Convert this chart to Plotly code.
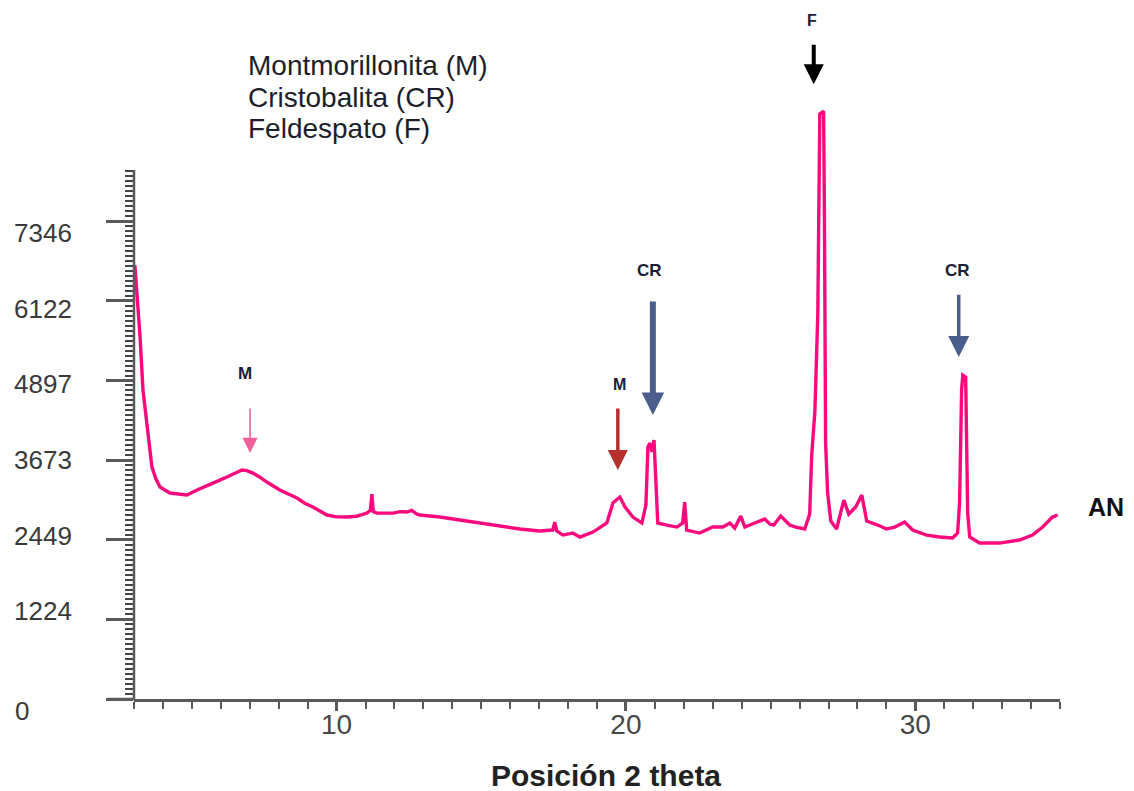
import numpy as np
import plotly.graph_objects as go

# ---------------- data ----------------
two_theta = [
    3.03, 3.10, 3.17, 3.21, 3.31, 3.45, 3.62, 3.76, 3.90, 4.24, 4.55, 4.83, 5.18, 5.45,
    5.73, 6.21, 6.50, 6.73, 6.90, 7.11, 7.35, 7.59, 8.04, 8.35, 8.63, 8.90, 9.18, 9.67,
    10.00, 10.36, 10.70, 11.05, 11.17, 11.22, 11.27, 11.39, 11.95, 12.20, 12.43, 12.60,
    12.78, 12.88, 13.57, 14.26, 14.95, 15.64, 16.33, 17.02, 17.47, 17.54, 17.61, 17.82,
    18.16, 18.41, 18.86, 19.34, 19.55, 19.79, 19.97, 20.24, 20.55, 20.69, 20.76, 20.83,
    20.90, 20.97, 21.04, 21.10, 21.41, 21.76, 21.96, 22.03, 22.10, 22.55, 23.00, 23.35,
    23.59, 23.76, 23.97, 24.11, 24.45, 24.62, 24.80, 24.97, 25.11, 25.35, 25.66, 25.87,
    26.18, 26.35, 26.42, 26.53, 26.63, 26.70, 26.83, 26.86, 26.90, 26.97, 27.08, 27.28,
    27.53, 27.70, 27.94, 28.15, 28.32, 28.70, 29.01, 29.29, 29.63, 29.91, 30.39, 30.84,
    31.29, 31.46, 31.53, 31.60, 31.64, 31.74, 31.77, 31.81, 31.88, 32.22, 32.91, 33.60,
    34.05, 34.40, 34.74, 34.92,
]
intensity = [
    6670, 6300, 5800, 5563, 4749, 4180, 3565, 3380, 3258, 3166, 3150, 3135, 3212, 3260,
    3319, 3412, 3470, 3519, 3510, 3473, 3410, 3335, 3212, 3150, 3089, 3010, 2951, 2828,
    2800, 2797, 2810, 2858, 2900, 3150, 2880, 2858, 2858, 2880, 2874, 2900,
    2840, 2828, 2797, 2751, 2705, 2659, 2613, 2582, 2597, 2720, 2582, 2520,
    2551, 2490, 2566, 2705, 3012, 3104, 2951, 2797, 2705, 2981, 3873, 3934,
    3800, 3980, 3212, 2705, 2674, 2643, 2705, 3027, 2597, 2551, 2643, 2643,
    2705, 2628, 2812, 2643, 2705, 2736, 2766, 2689, 2674, 2812, 2674, 2643,
    2613, 2843, 3750, 4426, 5917, 8990, 9036, 7392, 3934, 3166, 2736, 2613,
    3058, 2843, 2951, 3135, 2736, 2674, 2613, 2643, 2720, 2597, 2520, 2490,
    2474, 2551, 3012, 4749, 4979, 4949, 3673, 2858, 2490, 2397, 2397, 2444,
    2520, 2643, 2797, 2828,
]

y_tick_vals = [0, 1224, 2449, 3673, 4897, 6122, 7346]
y_tick_text = ["0", "1224", "2449", "3673", "4897", "6122", "7346"]
x_tick_vals = [10, 20, 30]
x_tick_text = ["10", "20", "30"]

legend_lines = ["Montmorillonita (M)", "Cristobalita (CR)", "Feldespato (F)"]

# peak markers: label, 2theta, label height, arrow tail, arrow tip (intensity units)
marker_labels = ["M", "M", "CR", "F", "CR"]
marker_theta = [7.01, 19.72, 20.93, 26.49, 31.50]
marker_label_theta = [6.83, 19.79, 20.82, 26.42, 31.46]
marker_label_int = [5010, 4841, 6593, 10435, 6593]
marker_tail_int = [4487, 4487, 6132, 10081, 6239]
marker_tip_int = [3781, 3519, 4365, 9451, 5256]
sample_name = "AN"
x_title = "Posición 2 theta"

# ---------------- layout constants ----------------
W, H = 1134, 791
ML, MR, MT, MB = 10, 74, 94, 60
PLOT_LEFT_PX = 134
PLOT_BOTTOM_PX = 699
PAPER_W = W - ML - MR
PAPER_H = H - MT - MB
PAPER_BOTTOM_PX = H - MB
X_DOMAIN0 = (PLOT_LEFT_PX - ML) / PAPER_W
Y_DOMAIN0 = (PAPER_BOTTOM_PX - PLOT_BOTTOM_PX) / PAPER_H
PLOT_H = PLOT_BOTTOM_PX - MT
X_RANGE = [3.0, 35.0]
Y_MAX = 9300
PX_PER_UNIT = PLOT_H / Y_MAX
Y_AXIS_TOP = 8130

AXIS_COLOR = "#5a5a5a"
LINE_COLOR = "#fa0a7d"
TICK_FONT = dict(family="Liberation Sans, Arial, sans-serif", size=26, color="#3a3a3a")
arrow_colors = ["#f2609b", "#b5302f", "#4a5d8d", "#000000", "#4a5d8d"]
arrow_widths = [1.6, 3.5, 6, 4, 3.5]
arrow_sizes = [1.9, 1.15, 0.75, 1.0, 1.2]
label_sizes = [17, 16, 17, 16, 17]


def ipaper(v):
    """intensity value -> paper fraction"""
    return Y_DOMAIN0 + v * PX_PER_UNIT / PAPER_H


def pxy(py):
    """pixel row -> paper fraction (for free text placement)"""
    return (PAPER_BOTTOM_PX - py) / PAPER_H


def pxx(px):
    return (px - ML) / PAPER_W


fig = go.Figure()
fig.add_trace(go.Scatter(
    x=two_theta, y=intensity, mode="lines",
    line=dict(color=LINE_COLOR, width=3.4),
    showlegend=False, hoverinfo="x+y",
))
# helper trace to register the label axis
fig.add_trace(go.Scatter(
    x=two_theta[:1], y=intensity[:1], mode="none", yaxis="y2",
    showlegend=False, hoverinfo="skip",
))

minor_y = [v for v in np.arange(0, Y_AXIS_TOP + 1, 1224 / 16)]

fig.update_layout(
    width=W, height=H,
    margin=dict(l=ML, r=MR, t=MT, b=MB),
    paper_bgcolor="white", plot_bgcolor="white",
    font=dict(family="Liberation Sans, Arial, sans-serif", color="#333333"),
    xaxis=dict(
        domain=[X_DOMAIN0, 1], range=X_RANGE, anchor="y",
        showgrid=False, zeroline=False,
        showline=True, linecolor=AXIS_COLOR, linewidth=2.5,
        tickmode="array", tickvals=x_tick_vals, ticktext=x_tick_text,
        ticks="outside", ticklen=9, tickwidth=2.5, tickcolor=AXIS_COLOR,
        ticklabelstandoff=-10,
        tickfont=dict(family="Liberation Sans, Arial, sans-serif", size=28, color="#484848"),
        minor=dict(dtick=1, tick0=0, ticks="outside", ticklen=7, tickwidth=2,
                   tickcolor=AXIS_COLOR, showgrid=False),
    ),
    yaxis=dict(
        domain=[Y_DOMAIN0, 1],
        range=[0, Y_MAX], showgrid=False, zeroline=False, showline=False,
        tickmode="array", tickvals=y_tick_vals, showticklabels=False,
        ticks="outside", ticklen=27, tickwidth=2.5, tickcolor=AXIS_COLOR,
        minor=dict(tickmode="array", tickvals=minor_y, ticks="outside", ticklen=8,
                   tickwidth=1.6, tickcolor="#444444", showgrid=False),
    ),
    yaxis2=dict(
        domain=[0, 1],
        overlaying="y", anchor="free", position=0, side="left",
        range=[-Y_DOMAIN0 * PAPER_H / PX_PER_UNIT, Y_MAX],
        showgrid=False, zeroline=False, showline=False,
        tickmode="array", tickvals=y_tick_vals[1:], ticktext=y_tick_text[1:],
        ticks="", ticklabelposition="inside bottom",
        tickfont=TICK_FONT,
    ),
)

# y axis line (stops below the top of the plot) and x-axis extension to the left
fig.add_shape(type="line", xref="paper", yref="paper",
              x0=X_DOMAIN0, x1=X_DOMAIN0, y0=Y_DOMAIN0, y1=ipaper(Y_AXIS_TOP),
              line=dict(color=AXIS_COLOR, width=2.5))
fig.add_shape(type="line", xref="paper", yref="paper",
              x0=X_DOMAIN0 - 26 / PAPER_W, x1=X_DOMAIN0, y0=Y_DOMAIN0, y1=Y_DOMAIN0,
              line=dict(color=AXIS_COLOR, width=2.5))

annotations = []
# the "0" tick label (plotly hides inside labels on the counter axis line)
annotations.append(dict(
    text=y_tick_text[0], xref="paper", yref="paper",
    x=pxx(13), y=pxy(711), xanchor="left", yanchor="middle", showarrow=False,
    font=TICK_FONT,
))
# legend-like text block
for i, txt in enumerate(legend_lines):
    annotations.append(dict(
        text=txt, xref="paper", yref="paper",
        x=pxx(246), y=pxy(66 + 31 * i),
        xanchor="left", yanchor="middle", showarrow=False,
        font=dict(family="Liberation Sans, Arial, sans-serif", size=28, color="#1e1e2a"),
    ))

# arrows and their labels
for i in range(len(marker_labels)):
    annotations.append(dict(
        text="", xref="x", yref="paper",
        x=marker_theta[i], y=ipaper(marker_tip_int[i]),
        ax=0, ay=-(marker_tail_int[i] - marker_tip_int[i]) * PX_PER_UNIT,
        axref="pixel", ayref="pixel",
        showarrow=True, arrowhead=2, arrowsize=arrow_sizes[i],
        arrowwidth=arrow_widths[i], arrowcolor=arrow_colors[i], standoff=0,
    ))
    annotations.append(dict(
        text="<b>%s</b>" % marker_labels[i],
        xref="x", yref="paper",
        x=marker_label_theta[i], y=ipaper(marker_label_int[i]),
        xanchor="center", yanchor="middle", showarrow=False,
        font=dict(family="Liberation Sans, Arial, sans-serif", size=label_sizes[i],
                  color="#1a2035"),
    ))

annotations.append(dict(
    text="<b>%s</b>" % sample_name, xref="paper", yref="paper",
    x=pxx(1086), y=pxy(507),
    xanchor="left", yanchor="middle", showarrow=False,
    font=dict(family="Liberation Sans, Arial, sans-serif", size=25, color="#111111"),
))
annotations.append(dict(
    text="<b>%s</b>" % x_title, xref="paper", yref="paper",
    x=pxx(606), y=pxy(775),
    xanchor="center", yanchor="middle", showarrow=False,
    font=dict(family="Liberation Sans, Arial, sans-serif", size=30, color="#222222"),
))
fig.update_layout(annotations=annotations)

fig.write_html("out.html")
